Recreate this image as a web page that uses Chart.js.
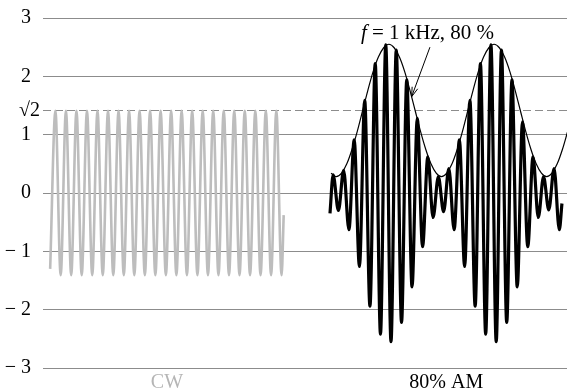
<!DOCTYPE html>
<html>
<head>
<meta charset="utf-8">
<script src="https://cdn.jsdelivr.net/npm/chart.js@4"></script>
<style>
  html, body { margin: 0; padding: 0; background: #fff; }
</style>
</head>
<body>
<canvas id="chart" width="567" height="392"></canvas>
<script>
// x unit = one carrier period, y = amplitude
const SQRT2 = Math.SQRT2;
const HALF = 0.5;
const xMin = -0.68, xMax = 49.13;

const yTicks = [-3, -2, -1, 0, 1, SQRT2, 2, 3];
const yTickLabels = ['\u2212 3', '\u2212 2', '\u2212 1', '0', '1', '\u221a2', '2', '3'];
const xTicks = [11.1, 37.65];
const xTickLabels = ['CW', '80% AM'];

// CW carrier: extremes every half period from t = 0
const cwStart = 0;
const cwValues = [-1.3,
  1.41, -1.41, 1.41, -1.41, 1.41, -1.41, 1.41, -1.41, 1.41, -1.41, 1.41, -1.41,
  1.41, -1.41, 1.41, -1.41, 1.41, -1.41, 1.41, -1.41, 1.41, -1.41, 1.41, -1.41,
  1.41, -1.41, 1.41, -1.41, 1.41, -1.41, 1.41, -1.41, 1.41, -1.41, 1.41, -1.41,
  1.41, -1.41, 1.41, -1.41, 1.41, -1.41, 1.41, -1.41];
const cwEnd = [22.2, -0.38];

// 80 % AM: extremes every half period from t = 26.9
const amHead = [26.6, -0.35];
const amStart = 26.9;
const amValues = [
  0.31, -0.30, 0.39, -0.63, 0.91, -1.26, 1.59, -1.94, 2.22, -2.42,
  2.54, -2.55, 2.45, -2.22, 1.94, -1.61, 1.28, -0.92, 0.62, -0.42,
  0.28, -0.32, 0.42, -0.63, 0.91, -1.26, 1.59, -1.94, 2.22, -2.42,
  2.54, -2.55, 2.45, -2.22, 1.94, -1.61, 1.22, -0.92, 0.62, -0.42,
  0.28, -0.29, 0.42, -0.63];
const amEnd = [48.65, -0.18];

// envelope, every half period from t = 26.7
const envStart = 26.7;
const envValues = [0.34, 0.28,
  0.34, 0.50, 0.75, 1.06, 1.41, 1.76, 2.08, 2.33, 2.49, 2.55,
  2.49, 2.33, 2.08, 1.76, 1.41, 1.06, 0.75, 0.50, 0.34, 0.28,
  0.34, 0.50, 0.75, 1.06, 1.41, 1.76, 2.08, 2.33, 2.49, 2.55,
  2.49, 2.33, 2.08, 1.76, 1.41, 1.06, 0.75, 0.50, 0.34, 0.28,
  0.34, 0.50, 0.75, 1.06];

// annotation (data coords)
const notePos = [35.87, 2.74];
const arrowFrom = [36.1, 2.5];
const arrowTo = [34.36, 1.65];

const FONT = "'Liberation Serif', 'Times New Roman', serif";
const GRID = '#8c8c8c';

const onGrid = (t0, vals) => vals.map((v, i) => ({ x: t0 + i * HALF, y: v }));
const pt = (a) => ({ x: a[0], y: a[1] });

const cwPoints = [...onGrid(cwStart, cwValues), pt(cwEnd)];
const amPoints = [pt(amHead), ...onGrid(amStart, amValues), pt(amEnd)];
const envPoints = onGrid(envStart, envValues);

const annotation = {
    id: 'annotation',
    afterDraw(chart) {
        const { ctx, scales: { x, y } } = chart;
        ctx.save();
        ctx.fillStyle = '#000';
        ctx.textBaseline = 'middle';
        ctx.font = 'italic 21px ' + FONT;
        const wf = ctx.measureText('f').width;
        ctx.font = '21px ' + FONT;
        const rest = ' = 1 kHz, 80 %';
        const wr = ctx.measureText(rest).width;
        const cx = x.getPixelForValue(notePos[0]);
        const cy = y.getPixelForValue(notePos[1]);
        const left = cx - (wf + wr) / 2;
        ctx.textAlign = 'left';
        ctx.font = 'italic 21px ' + FONT;
        ctx.fillText('f', left, cy);
        ctx.font = '21px ' + FONT;
        ctx.fillText(rest, left + wf, cy);

        // arrow
        const x1 = x.getPixelForValue(arrowFrom[0]), y1 = y.getPixelForValue(arrowFrom[1]);
        const x2 = x.getPixelForValue(arrowTo[0]), y2 = y.getPixelForValue(arrowTo[1]);
        const ang = Math.atan2(y2 - y1, x2 - x1);
        ctx.strokeStyle = '#000';
        ctx.lineWidth = 1;
        ctx.beginPath();
        ctx.moveTo(x1, y1);
        ctx.lineTo(x2, y2);
        ctx.moveTo(x2 - 10 * Math.cos(ang - 0.3), y2 - 10 * Math.sin(ang - 0.3));
        ctx.lineTo(x2, y2);
        ctx.lineTo(x2 - 10 * Math.cos(ang + 0.3), y2 - 10 * Math.sin(ang + 0.3));
        ctx.stroke();
        ctx.restore();
    }
};

new Chart(document.getElementById('chart'), {
    type: 'line',
    data: {
        datasets: [
            { data: envPoints, borderColor: '#000', borderWidth: 1.2 },
            { data: amPoints, borderColor: '#000', borderWidth: 3.2 },
            { data: cwPoints, borderColor: '#bdbdbd', borderWidth: 2.6 },
            { data: [{ x: xMin, y: SQRT2 }, { x: xMax, y: SQRT2 }], borderColor: GRID, borderWidth: 1, borderDash: [8, 4] }
        ]
    },
    options: {
        responsive: false,
        animation: false,
        layout: { padding: { top: 18, left: 0, right: 0, bottom: 0 } },
        elements: {
            point: { radius: 0 },
            line: { cubicInterpolationMode: 'monotone', fill: false }
        },
        plugins: { legend: { display: false }, tooltip: { enabled: false } },
        scales: {
            x: {
                type: 'linear', min: xMin, max: xMax,
                afterBuildTicks: (s) => { s.ticks = xTicks.map(v => ({ value: v })); },
                afterFit: (s) => { s.height = 24; },
                grid: { display: false, drawTicks: false },
                border: { display: false },
                ticks: {
                    autoSkip: false, maxRotation: 0, padding: 3,
                    font: { family: FONT, size: 20 },
                    color: (c) => c.index === 0 ? '#b5b5b5' : '#000',
                    callback: (v, i) => xTickLabels[i]
                }
            },
            y: {
                min: -3, max: 3,
                afterBuildTicks: (s) => { s.ticks = yTicks.map(v => ({ value: v })); },
                afterFit: (s) => { s.width = 43; },
                grid: {
                    drawTicks: false,
                    color: (c) => (c.tick && c.tick.value === SQRT2) ? 'rgba(0,0,0,0)' : GRID
                },
                border: { display: false },
                ticks: {
                    padding: 3,
                    color: '#000',
                    font: { family: FONT, size: 20 },
                    callback: (v) => {
                        const lab = yTickLabels[yTicks.indexOf(v)];
                        return v === SQRT2 ? lab : lab + ' \u2009';
                    }
                }
            }
        }
    },
    plugins: [annotation]
});
</script>
</body>
</html>
